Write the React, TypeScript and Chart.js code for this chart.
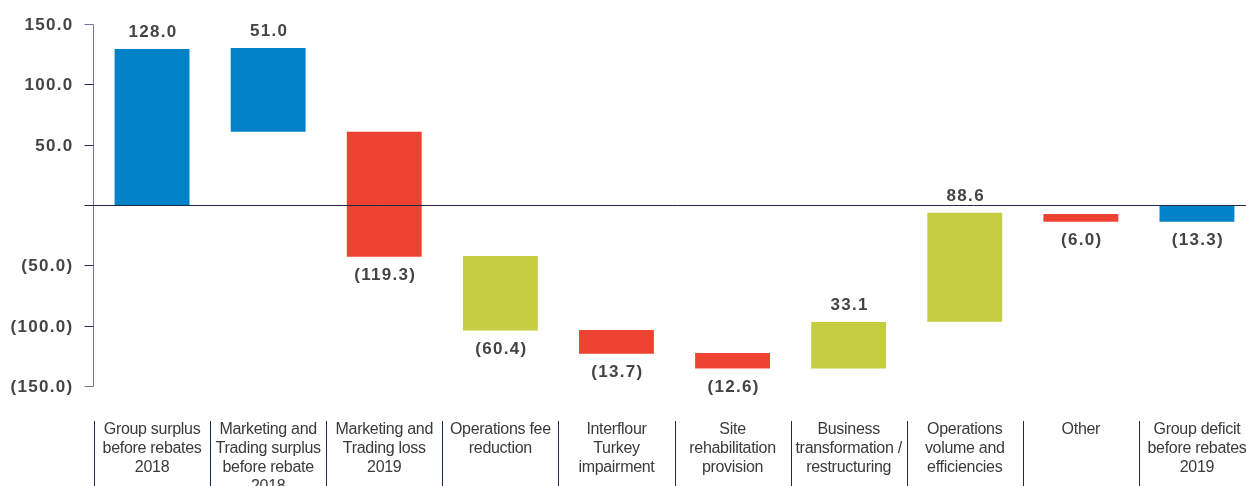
import React, { useEffect, useRef } from "react";
import { Chart, registerables } from "chart.js";

Chart.register(...registerables);

const categories: string[][] = [
  ["Group surplus", "before rebates", "2018"],
  ["Marketing and", "Trading surplus", "before rebate", "2018"],
  ["Marketing and", "Trading loss", "2019"],
  ["Operations fee", "reduction"],
  ["Interflour", "Turkey", "impairment"],
  ["Site", "rehabilitation", "provision"],
  ["Business", "transformation /", "restructuring"],
  ["Operations", "volume and", "efficiencies"],
  ["Other"],
  ["Group deficit", "before rebates", "2019"],
];

// Floating bar ranges as drawn in the picture
const barStarts = [0, 60.7, -42.8, -104.1, -123.2, -135.6, -135.6, -96.7, -13.8, -13.8];
const barEnds = [129.3, 130.1, 60.7, -42.2, -103.6, -122.6, -97.0, -6.5, -7.4, 0];

// Values printed as labels
const labelValues = [128.0, 51.0, -119.3, -60.4, -13.7, -12.6, 33.1, 88.6, -6.0, -13.3];

const barKinds = ["total", "total", "down", "op", "down", "down", "op", "op", "down", "total"];

const yTicks = [150, 100, 50, 0, -50, -100, -150];

const COLORS: Record<string, string> = {
  total: "#0082c8",
  down: "#ef4332",
  op: "#c4ce40",
};

const fmt = (v: number) => (v < 0 ? `(${Math.abs(v).toFixed(1)})` : v.toFixed(1));

const drawPlugin = {
  id: "customDraw",
  afterDatasetsDraw(chart: any) {
    const ctx: CanvasRenderingContext2D = chart.ctx;
    const xs = chart.scales.x;
    const ys = chart.scales.y;
    const area = chart.chartArea;
    const axisX = Math.round(area.left) - 0.5;
    const y0 = Math.round(ys.getPixelForValue(0)) + 0.5;

    ctx.save();
    // y axis line
    ctx.strokeStyle = "#6b7893";
    ctx.lineWidth = 1;
    ctx.beginPath();
    ctx.moveTo(axisX, Math.round(ys.getPixelForValue(150)) + 0.5);
    ctx.lineTo(axisX, Math.round(ys.getPixelForValue(-150)) + 0.5);
    ctx.stroke();

    // tick marks and labels
    ctx.font = "bold 17px 'Liberation Sans', Arial, sans-serif";
    (ctx as any).letterSpacing = "1.3px";
    ctx.textAlign = "right";
    ctx.textBaseline = "middle";
    yTicks.forEach((t) => {
      const py = Math.round(ys.getPixelForValue(t)) + 0.5;
      if (t !== 0) {
        ctx.strokeStyle = t === 150 || t === -150 ? "#6b7893" : "#26304d";
        ctx.beginPath();
        ctx.moveTo(axisX - 9, py);
        ctx.lineTo(axisX, py);
        ctx.stroke();
        ctx.fillStyle = "#444444";
        ctx.fillText(fmt(t), axisX - 20, py + 1);
      }
    });

    // zero line
    ctx.strokeStyle = "#1f2947";
    ctx.beginPath();
    ctx.moveTo(axisX - 9, y0);
    ctx.lineTo(chart.width, y0);
    ctx.stroke();

    // data labels
    const meta = chart.getDatasetMeta(0);
    ctx.textAlign = "center";
    ctx.fillStyle = "#444444";
    meta.data.forEach((bar: any, i: number) => {
      const top = Math.min(bar.y, bar.base);
      const bottom = Math.max(bar.y, bar.base);
      const v = labelValues[i];
      const ly = v >= 0 ? top - 17 : bottom + 19;
      ctx.fillText(fmt(v), bar.x + 1, ly);
    });

    // category separators and labels
    const half = (xs.getPixelForValue(1) - xs.getPixelForValue(0)) / 2;
    ctx.strokeStyle = "#1f2b4a";
    (ctx as any).letterSpacing = "-0.3px";
    ctx.font = "16px 'Liberation Sans', Arial, sans-serif";
    ctx.fillStyle = "#3a3a3a";
    categories.forEach((lines, i) => {
      const cx = xs.getPixelForValue(i);
      const bx = Math.round(cx - half) + 0.5;
      ctx.beginPath();
      ctx.moveTo(bx, area.bottom + 35);
      ctx.lineTo(bx, chart.height);
      ctx.stroke();
      lines.forEach((ln, j) => {
        ctx.fillText(ln, cx, area.bottom + 44 + j * 19);
      });
    });
    ctx.restore();
  },
};

export default function App() {
  const ref = useRef<HTMLCanvasElement | null>(null);

  useEffect(() => {
    document.body.style.margin = "0";
    document.documentElement.style.overflow = "hidden";
    const canvas = ref.current!;
    const chart = new Chart(canvas, {
      type: "bar",
      data: {
        labels: categories.map((c) => c.join(" ")),
        datasets: [
          {
            data: barStarts.map((s, i) => [s, barEnds[i]]) as any,
            backgroundColor: barKinds.map((k) => COLORS[k]),
            barPercentage: 0.645,
            categoryPercentage: 1,
            borderWidth: 0,
          },
        ],
      },
      options: {
        responsive: false,
        animation: false,
        devicePixelRatio: 1,
        layout: { padding: { left: 94, right: 15, top: 24, bottom: 100 } },
        plugins: { legend: { display: false }, tooltip: { enabled: false } },
        scales: {
          x: { display: false },
          y: { display: false, min: -150, max: 150 },
        },
      },
      plugins: [drawPlugin],
    });
    return () => chart.destroy();
  }, []);

  return (
    <div style={{ width: 1246, height: 486, overflow: "hidden", position: "relative", background: "#fff" }}>
      <canvas ref={ref} width={1270} height={486} style={{ display: "block" }} />
    </div>
  );
}
